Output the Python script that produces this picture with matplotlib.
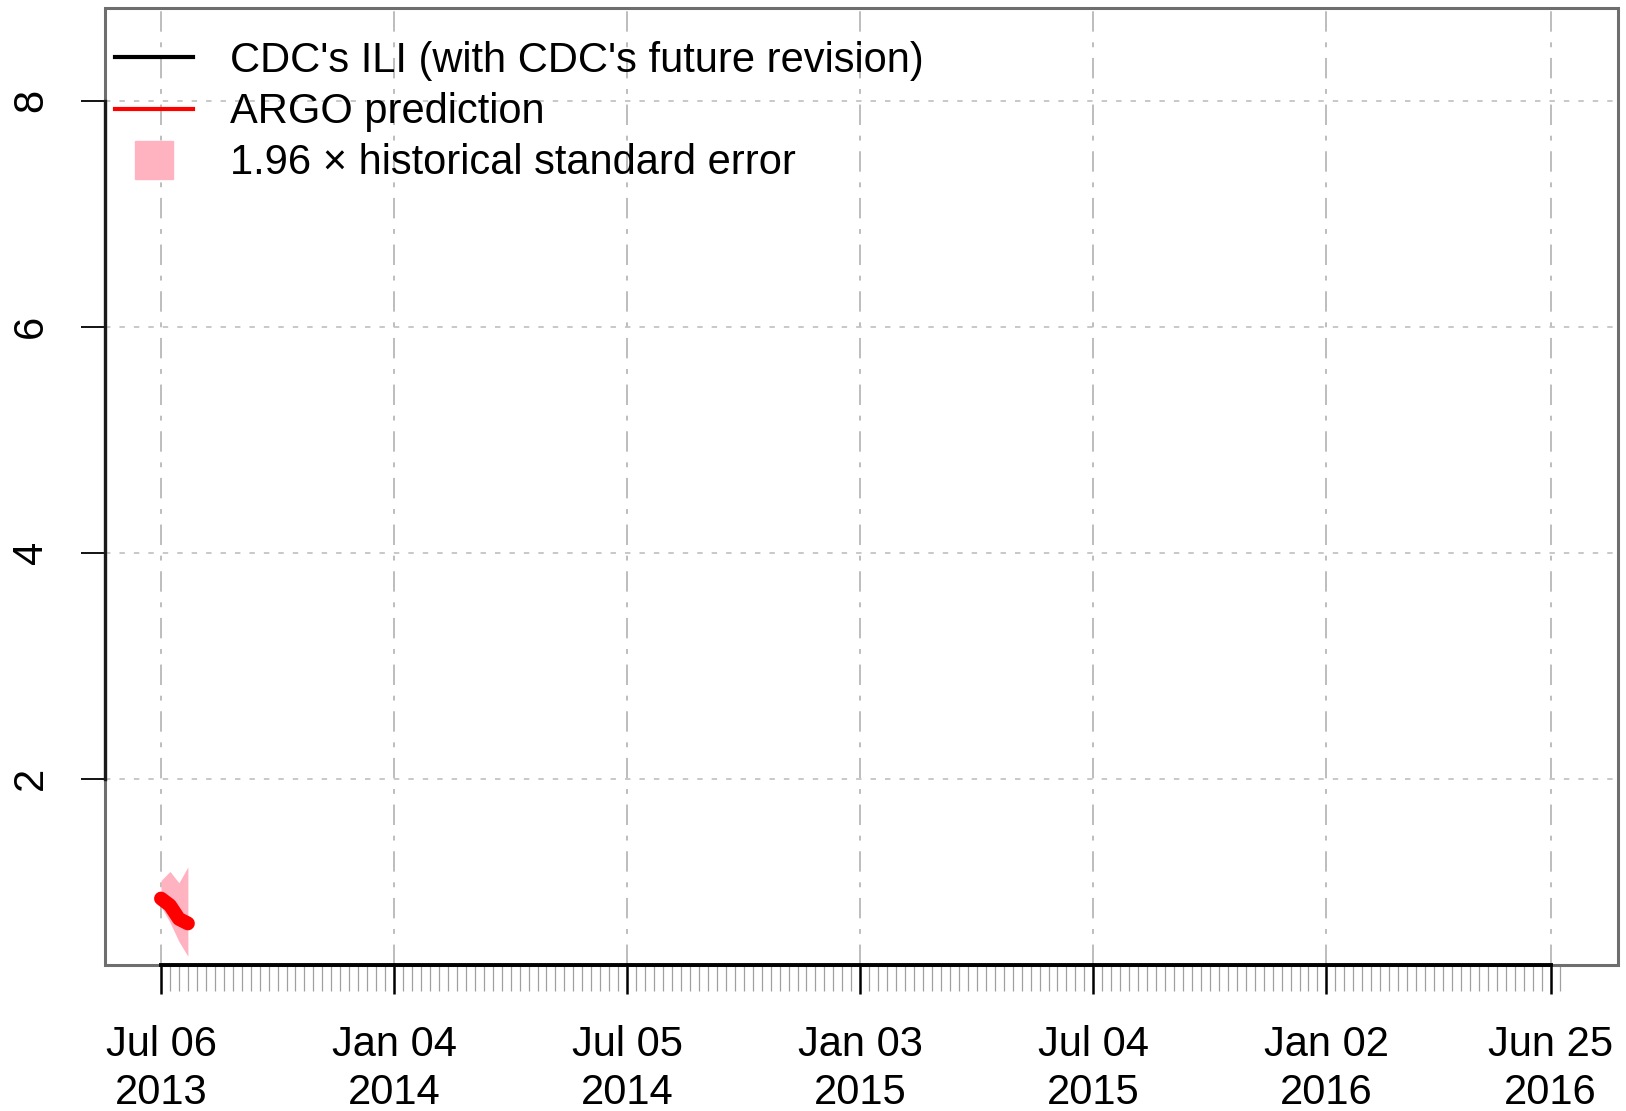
import numpy as np
import matplotlib
matplotlib.use('Agg')
import matplotlib.pyplot as plt
import matplotlib.dates as mdates
from matplotlib.lines import Line2D
from matplotlib.patches import Rectangle

plt.rcParams['font.family'] = ['Liberation Sans', 'DejaVu Sans']

# data
week_dates = np.array(['2013-07-06', '2013-07-13', '2013-07-20', '2013-07-27'], dtype='datetime64[D]')
argo = [0.94, 0.88, 0.76, 0.72]
band_upper = [1.10, 1.18, 1.08, 1.22]
band_lower = [0.87, 0.73, 0.56, 0.43]

major_dates = np.array(['2013-07-06', '2014-01-04', '2014-07-05', '2015-01-03',
                        '2015-07-04', '2016-01-02', '2016-06-25'], dtype='datetime64[D]')
major_labels = ['Jul 06\n2013', 'Jan 04\n2014', 'Jul 05\n2014', 'Jan 03\n2015',
                'Jul 04\n2015', 'Jan 02\n2016', 'Jun 25\n2016']
minor_dates = np.arange(np.datetime64('2013-07-06'), np.datetime64('2016-07-03'), 7)
y_ticks = [2, 4, 6, 8]

band_color = '#ffb3c1'

fig = plt.figure(figsize=(16.26, 11.11), dpi=100)
ax = fig.add_axes([0.0646, 0.1311, 0.9305, 0.8614])

x0 = mdates.date2num(major_dates[0])
x1 = mdates.date2num(major_dates[-1])
ax.set_xlim(x0 - 43.7, x1 + 52.7)
ax.set_ylim(0.349, 8.817)

# grid
ax.set_xticks(mdates.date2num(major_dates))
ax.set_xticks(mdates.date2num(minor_dates), minor=True)
ax.set_yticks(y_ticks)
ax.set_xticklabels(major_labels, fontsize=30, linespacing=1.27)
ax.set_yticklabels([str(v) for v in y_ticks], fontsize=30, rotation=90, va='center')
ax.grid(axis='x', which='major', color='#bdbdbd', linewidth=1.4,
        linestyle=(0, (10.5, 5.5, 2.5, 5.5)))
ax.grid(axis='y', which='major', color='#c4c4c4', linewidth=1.3,
        linestyle=(0, (3, 5)))
ax.set_axisbelow(True)

ax.tick_params(axis='x', which='major', length=21, width=1.8, color='black', pad=22)
ax.tick_params(axis='x', which='minor', length=19, width=0.9, color='#a0a0a0')
ax.tick_params(axis='y', which='major', length=17, width=1.3, color='black', pad=22)

# R style box + axis lines
for s in ax.spines.values():
    s.set_visible(False)
box = Rectangle((0, 0), 1, 1, transform=ax.transAxes, fill=False,
                edgecolor='#6e6e6e', linewidth=2.2, clip_on=False, zorder=2)
ax.add_patch(box)
ax.spines['bottom'].set_visible(True)
ax.spines['bottom'].set_bounds(x0, x1)
ax.spines['bottom'].set_linewidth(2.8)
ax.spines['bottom'].set_color('black')
ax.spines['left'].set_visible(True)
ax.spines['left'].set_bounds(y_ticks[0], y_ticks[-1])
ax.spines['left'].set_linewidth(2.4)
ax.spines['left'].set_color('#1a1a1a')
for s in ('bottom', 'left'):
    ax.spines[s].set_zorder(3)

# series
xd = mdates.date2num(week_dates)
ax.fill_between(xd, band_lower, band_upper, color=band_color, linewidth=0, zorder=4)
ax.plot(xd, argo, color='red', linewidth=10, solid_capstyle='round',
        solid_joinstyle='round', zorder=5)

handles = [
    Line2D([], [], color='black', linewidth=3),
    Line2D([], [], color='red', linewidth=3),
    Line2D([], [], color=band_color, marker='s', linestyle='none', markersize=27),
]
labels = ["CDC's ILI (with CDC's future revision)", 'ARGO prediction',
          '1.96 \u00d7 historical standard error']
ax.legend(handles, labels, loc='upper left', bbox_to_anchor=(0.0066, 0.966),
          frameon=False, fontsize=30, handlelength=1.86, handletextpad=0.9,
          labelspacing=0.27, borderpad=0, borderaxespad=0)

fig.savefig('out.png', dpi=100)
